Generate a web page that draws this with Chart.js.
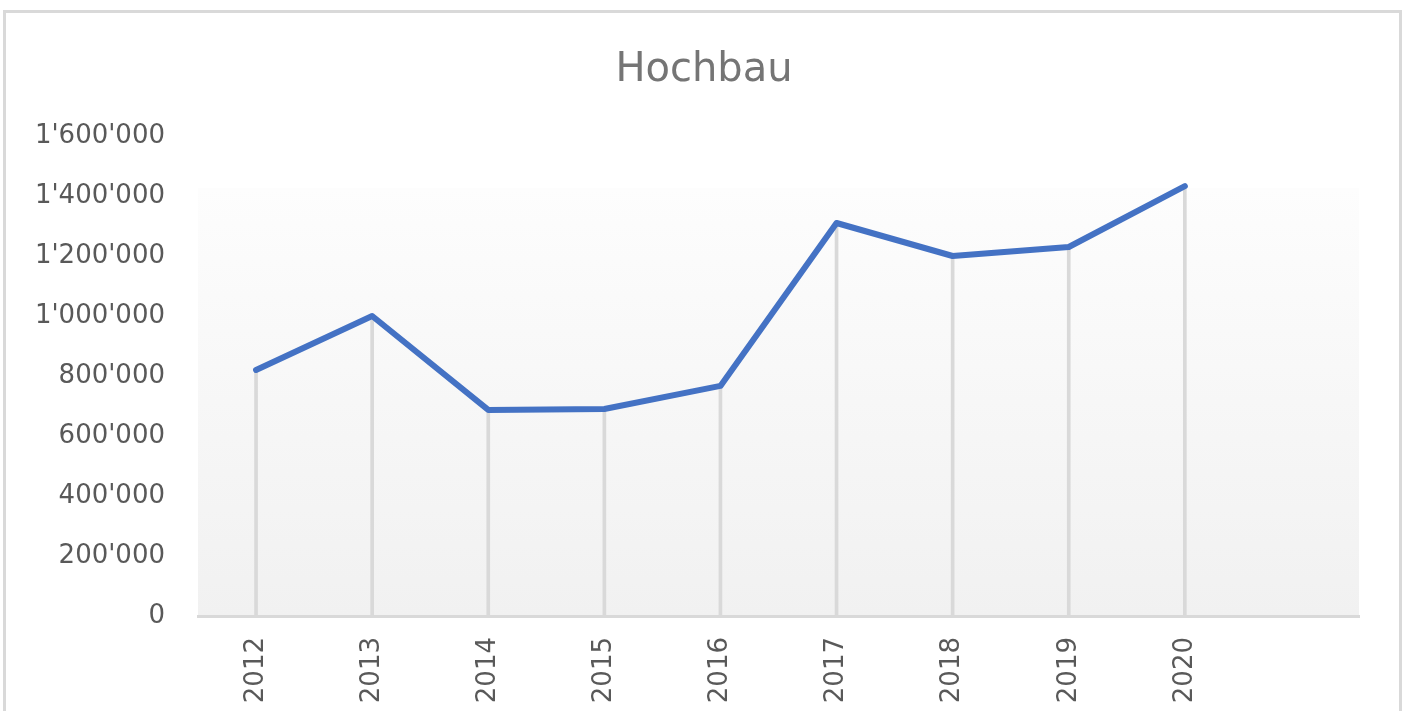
<!DOCTYPE html>
<html>
<head>
<meta charset="utf-8">
<script src="https://cdn.jsdelivr.net/npm/chart.js@4"></script>
<style>
  html,body{margin:0;padding:0;background:#fff;}
  #wrap{position:relative;width:1408px;height:711px;overflow:hidden;}
  #frame{position:absolute;left:3px;top:10px;width:1399px;height:720px;border:3px solid #d9d9d9;box-sizing:border-box;}
  canvas{position:absolute;left:0;top:0;}
</style>
</head>
<body>
<div id="wrap">
  <div id="frame"></div>
  <canvas id="c" width="1408" height="711"></canvas>
</div>
<script>
// Hochbau — Jahreswerte 2012–2020
const jahre=['2012','2013','2014','2015','2016','2017','2018','2019','2020',''];
const werte=[820000,1000000,687000,690000,767000,1310000,1200000,1230000,1433000,null];
const yTicks=[0,200000,400000,600000,800000,1000000,1200000,1400000,1600000];

const fmt=v=>String(v).replace(/\B(?=(\d{3})+(?!\d))/g,"'");

// Verlaufsfläche hinter dem Diagramm (wie Excel-Zeichnungsfläche)
const plotBg={
  id:'plotBg',
  beforeDraw(chart){
    const {ctx,chartArea:a}=chart;
    const top=a.top+52;
    const g=ctx.createLinearGradient(0,top,0,a.bottom);
    g.addColorStop(0,'#fdfdfd');
    g.addColorStop(1,'#f1f1f1');
    ctx.save();
    ctx.fillStyle=g;
    ctx.fillRect(a.left,top,a.right-a.left,a.bottom-top);
    ctx.restore();
  }
};

new Chart(document.getElementById('c').getContext('2d'),{
  data:{
    labels:jahre,
    datasets:[
      {type:'line',label:'Hochbau',data:werte,borderColor:'#4472c4',borderWidth:6,
       pointRadius:0,tension:0,borderCapStyle:'round',borderJoinStyle:'round',order:0},
      // Lotlinien
      {type:'bar',label:'lot',data:werte,backgroundColor:'#d9d9d9',barThickness:3,order:1}
    ]
  },
  options:{
    responsive:false,animation:false,
    layout:{padding:{left:0,right:0,top:47,bottom:0}},
    plugins:{
      legend:{display:false},tooltip:{enabled:false},
      title:{display:true,text:'Hochbau',color:'#757575',
        font:{family:'DejaVu Sans',size:40,weight:'normal'},padding:{top:0,bottom:41}}
    },
    scales:{
      x:{
        grid:{display:false},
        border:{display:true,color:'#d9d9d9',width:3},
        ticks:{color:'#595959',font:{family:'DejaVu Sans',size:26},minRotation:90,maxRotation:90,padding:13,autoSkip:false},
        afterFit:s=>{s.height=95;}
      },
      y:{
        min:0,max:1600000,
        grid:{display:false,drawTicks:false},
        border:{display:false},
        afterBuildTicks:s=>{s.ticks=yTicks.map(v=>({value:v}));},
        ticks:{color:'#595959',font:{family:'DejaVu Sans',size:26},padding:33,callback:v=>fmt(v)},
        afterFit:s=>{s.width=198;}
      },
      // leerer Rand rechts
      yr:{
        position:'right',display:true,
        grid:{display:false,drawTicks:false},
        border:{display:false},
        ticks:{display:false},
        afterFit:s=>{s.width=49;}
      }
    }
  },
  plugins:[plotBg]
});
</script>
</body>
</html>
